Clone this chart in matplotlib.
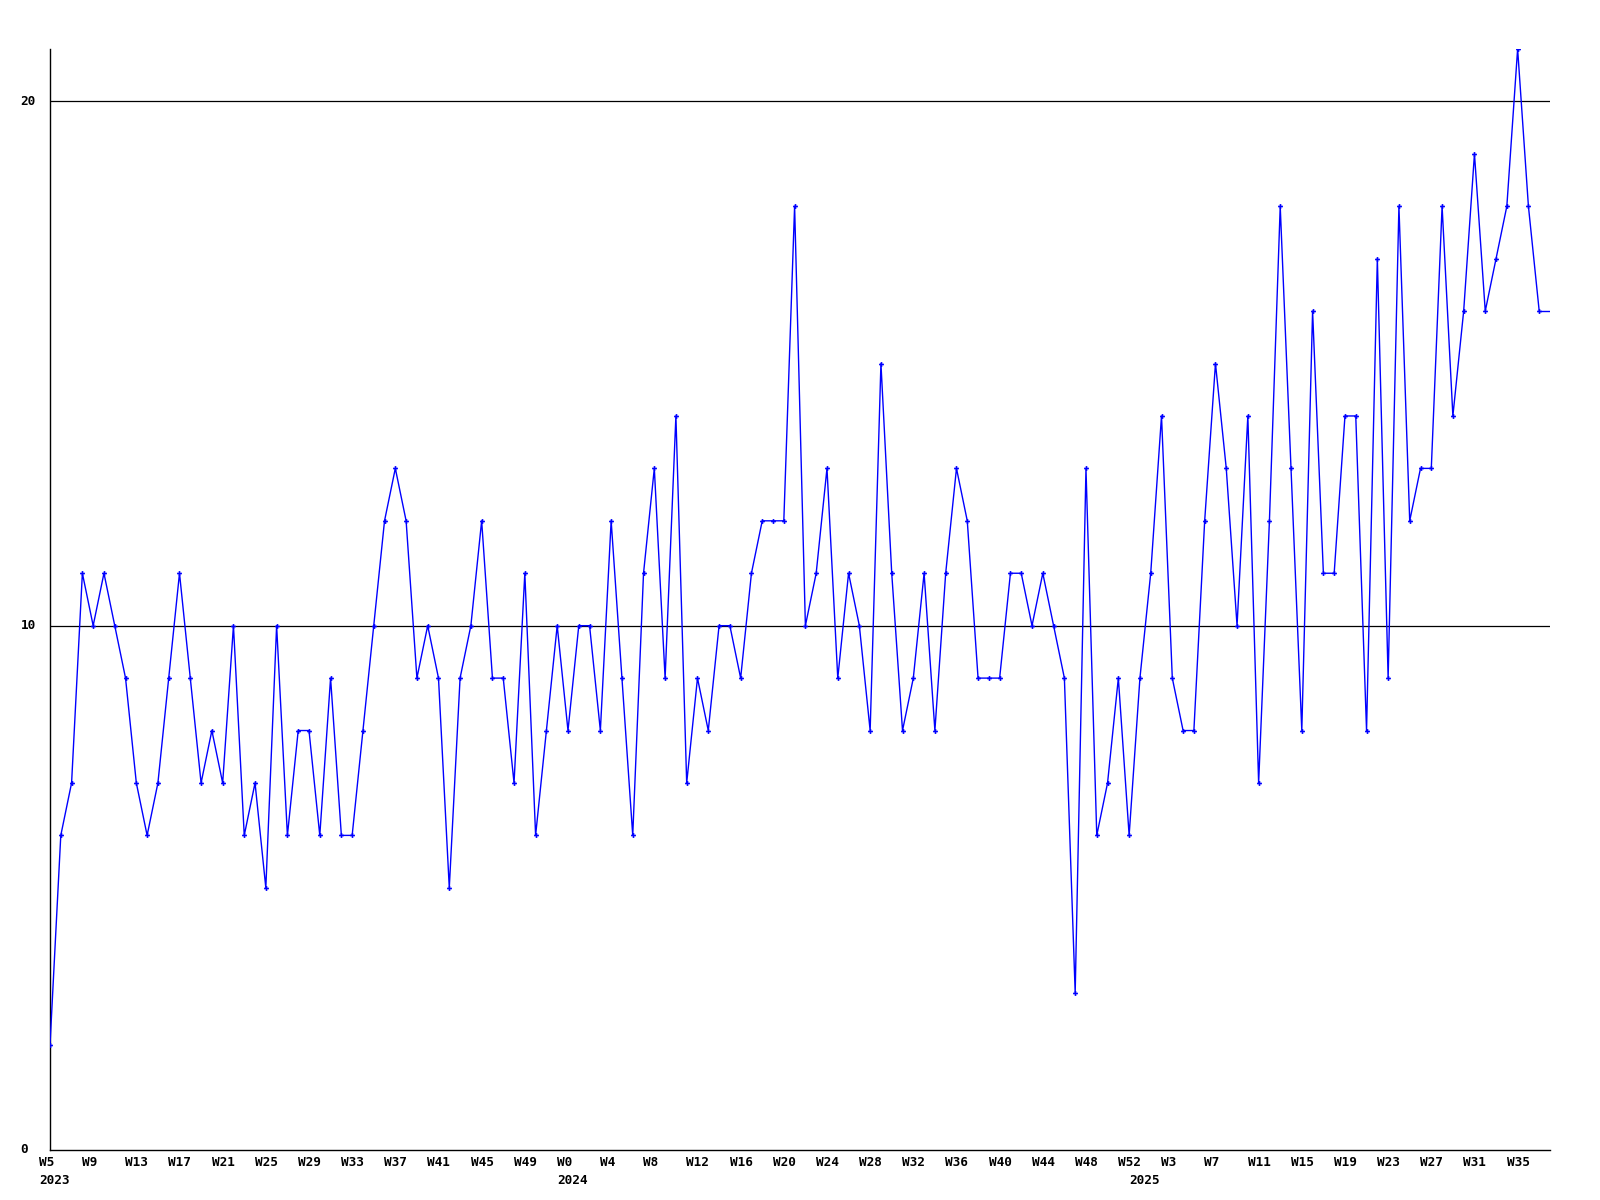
#!/usr/bin/env python3

import sys
import matplotlib
matplotlib.use('Agg')
import matplotlib.pyplot as plt
import matplotlib.transforms as mtransforms
import numpy as np

# weekly counts, first point is 2023 W5
weekly_counts = [
    2, 6, 7, 11, 10, 11, 10, 9, 7, 6, 7, 9, 11, 9, 7, 8, 7, 10, 6, 7,
    5, 10, 6, 8, 8, 6, 9, 6, 6, 8, 10, 12, 13, 12, 9, 10, 9, 5, 9, 10,
    12, 9, 9, 7, 11, 6, 8, 10, 8, 10, 10, 8, 12, 9, 6, 11, 13, 9, 14, 7,
    9, 8, 10, 10, 9, 11, 12, 12, 12, 18, 10, 11, 13, 9, 11, 10, 8, 15, 11, 8,
    9, 11, 8, 11, 13, 12, 9, 9, 9, 11, 11, 10, 11, 10, 9, 3, 13, 6, 7, 9,
    6, 9, 11, 14, 9, 8, 8, 12, 15, 13, 10, 14, 7, 12, 18, 13, 8, 16, 11, 11,
    14, 14, 8, 17, 9, 18, 12, 13, 13, 18, 14, 16, 19, 16, 17, 18, 21, 18, 16,
]

week_labels = [
    'W5', 'W9', 'W13', 'W17', 'W21', 'W25', 'W29', 'W33', 'W37', 'W41', 'W45', 'W49',
    'W0', 'W4', 'W8', 'W12', 'W16', 'W20', 'W24', 'W28', 'W32', 'W36', 'W40', 'W44', 'W48',
    'W52', 'W3', 'W7', 'W11', 'W15', 'W19', 'W23', 'W27', 'W31', 'W35',
]
tick_every = 4

years = ['2023', '2024', '2025']
year_start_week = [0, 48, 101]   # week index where each year label sits

y_ticks = [0, 10, 20]

FONT = {'family': 'DejaVu Sans Mono', 'weight': 'bold', 'size': 9.2}


def px(fig, dx, dy):
    """Offset in screen pixels (figure is drawn at 100 dpi)."""
    return mtransforms.ScaledTranslation(dx / 100, dy / 100, fig.dpi_scale_trans)


def plot_weekly(counts):
    fig = plt.figure(figsize=(16, 12), dpi=100)
    ax = fig.add_axes([0.03125, 0.0417, 0.9375, 0.9175])

    x = np.arange(len(counts))
    ax.plot(x, counts, color='#0000ff', linewidth=1.0, marker='P',
            markersize=3.5, markeredgewidth=0, zorder=3)
    # line carries on flat to the right edge
    x_end = x[-1] + 1
    ax.plot([x[-1], x_end], [counts[-1], counts[-1]], color='#0000ff',
            linewidth=1.0, zorder=3)

    ax.set_xlim(0, x_end)
    ax.set_ylim(0, max(counts))

    # no matplotlib tick labels, they are placed by hand below
    ax.set_xticks([])
    ax.set_yticks([])
    for v in y_ticks[1:]:
        ax.axhline(v, color='black', linewidth=0.9, zorder=1)

    # y labels, left aligned near the figure edge
    ytrans = mtransforms.blended_transform_factory(fig.transFigure, ax.transData)
    for v in y_ticks:
        ax.text(20.5 / 1600, v, str(v), transform=ytrans, ha='left',
                va='center', **FONT)

    # week labels start a bit left of their week
    xtrans = mtransforms.blended_transform_factory(ax.transData, ax.transAxes) + px(fig, -11, 0)
    ticks = np.arange(0, len(week_labels) * tick_every, tick_every)
    for pos, lbl in zip(ticks, week_labels):
        ax.text(pos, -0.0055, lbl, transform=xtrans, ha='left', va='top', **FONT)

    # year captions under the week labels
    for year, pos in zip(years, year_start_week):
        ax.text(pos, -0.0215, year, transform=xtrans, ha='left', va='top', **FONT)

    for side in ('top', 'right'):
        ax.spines[side].set_visible(False)
    for side in ('left', 'bottom'):
        ax.spines[side].set_color('black')
        ax.spines[side].set_linewidth(1.0)

    fig.savefig('out.png', dpi=100, facecolor='white')
    return fig


def main():
    plot_weekly(weekly_counts)
    return 0


if __name__ == "__main__":
    sys.exit(main())
